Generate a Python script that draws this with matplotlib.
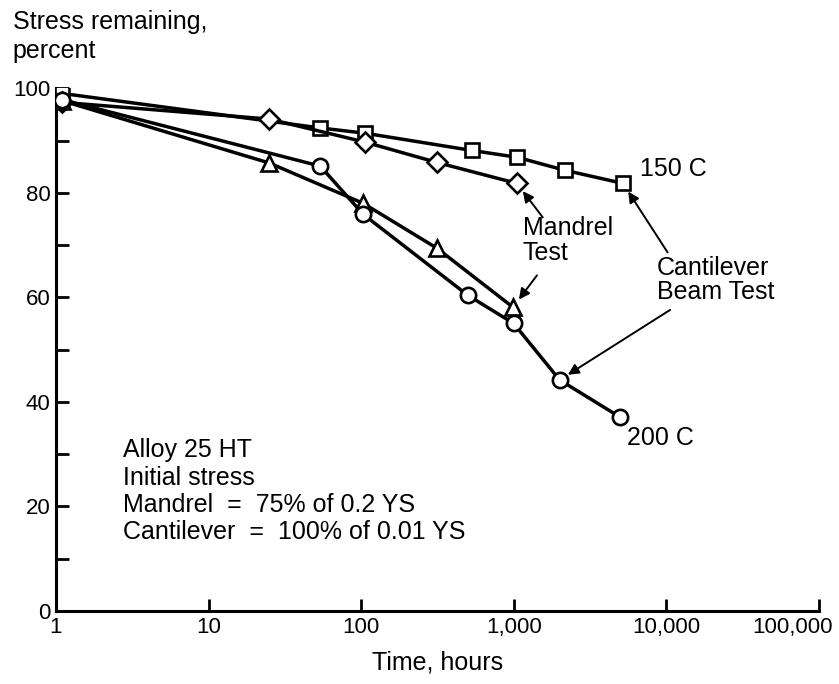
import matplotlib
matplotlib.use("Agg")
import matplotlib.pyplot as plt
from matplotlib.ticker import FixedLocator, FixedFormatter, NullLocator

# ---- data (time in hours, stress remaining in percent) ----
sq_time = [1.1, 54, 106, 532, 1050, 2170, 5200]          # 150 C cantilever beam
sq_stress = [99.0, 92.4, 91.4, 88.1, 86.8, 84.3, 81.8]

dia_time = [1.1, 25, 106, 314, 1050]                      # 150 C mandrel
dia_stress = [97.3, 94.1, 89.7, 85.8, 81.8]

tri_time = [1.1, 25, 103, 314, 990]                       # 200 C mandrel
tri_stress = [97.6, 85.7, 78.0, 69.4, 58.1]

circ_time = [1.1, 54, 103, 500, 1000, 2000, 4970]         # 200 C cantilever beam
circ_stress = [97.8, 85.1, 75.9, 60.4, 55.0, 44.2, 37.1]

x_ticks = [1, 10, 100, 1000, 10000, 100000]
x_labels = ["1", "10", "100", "1,000", "10,000", "100,000"]
y_ticks = [0, 20, 40, 60, 80, 100]
y_minor = [10, 30, 50, 70, 90]

plt.rcParams['font.family'] = ['Liberation Sans', 'DejaVu Sans']

fig = plt.figure(figsize=(8.39, 6.84), dpi=100)
ax = fig.add_axes([0.0667, 0.1067, 0.9093, 0.7643])

line_kw = dict(color='black', lw=2.5, markerfacecolor='white',
               markeredgecolor='black', markeredgewidth=1.9, zorder=3)
ax.plot(sq_time, sq_stress, marker='s', markersize=10, **line_kw)
ax.plot(dia_time, dia_stress, marker='D', markersize=10, **line_kw)
ax.plot(tri_time, tri_stress, marker='^', markersize=11, **line_kw)
ax.plot(circ_time, circ_stress, marker='o', markersize=11, **line_kw)

ax.set_xscale('log')
ax.set_xlim(1, 100000)
ax.set_ylim(0, 100)

# last x label is drawn by hand below so it can sit left of its tick like the original
ax.xaxis.set_major_locator(FixedLocator(x_ticks))
ax.xaxis.set_major_formatter(FixedFormatter(x_labels[:-1] + [""]))
ax.xaxis.set_minor_locator(NullLocator())
ax.yaxis.set_major_locator(FixedLocator(y_ticks))
ax.yaxis.set_minor_locator(FixedLocator(y_minor))

ax.tick_params(axis='both', which='both', direction='in', width=2,
               length=9, labelsize=16, color='black')
ax.tick_params(axis='x', pad=4)
ax.tick_params(axis='y', pad=4)

ax.annotate(x_labels[-1], xy=(x_ticks[-1], 0), xycoords=('data', 'axes fraction'),
            xytext=(-26, -6), textcoords='offset pixels', ha='center', va='top',
            fontsize=16)

for side in ('top', 'right'):
    ax.spines[side].set_visible(False)
for side in ('left', 'bottom'):
    ax.spines[side].set_linewidth(2.2)

ax.set_xlabel("Time, hours", fontsize=18, labelpad=9)
fig.text(0.015, 0.985, "Stress remaining,\npercent", ha='left', va='top',
         fontsize=18, linespacing=1.25)

# ---- curve labels ----
txt = dict(fontsize=18, color='black', ha='left')
ax.text(6740, 84.5, "150 C", va='center', **txt)
ax.text(5530, 33.0, "200 C", va='center', **txt)
ax.text(1150, 75.5, "Mandrel\nTest", va='top', linespacing=1.05, **txt)
ax.text(8700, 68.0, "Cantilever\nBeam Test", va='top', linespacing=1.05, **txt)
ax.text(2.75, 33.0, "Alloy 25 HT\nInitial stress\nMandrel  =  75% of 0.2 YS\n"
        "Cantilever  =  100% of 0.01 YS", va='top', linespacing=1.17, **txt)

# ---- pointer arrows ----
arr = dict(arrowstyle='-|>', color='black', lw=1.4, mutation_scale=16,
           shrinkA=0, shrinkB=7)
ax.annotate("", xy=(dia_time[-1], dia_stress[-1]), xytext=(1550, 75.3), arrowprops=arr)
ax.annotate("", xy=(tri_time[-1], tri_stress[-1]), xytext=(1420, 64.2), arrowprops=arr)
ax.annotate("", xy=(sq_time[-1], sq_stress[-1]), xytext=(10200, 68.6), arrowprops=arr)
ax.annotate("", xy=(circ_time[-2], circ_stress[-2]), xytext=(10600, 57.6), arrowprops=arr)

fig.savefig("out.png", dpi=100)
